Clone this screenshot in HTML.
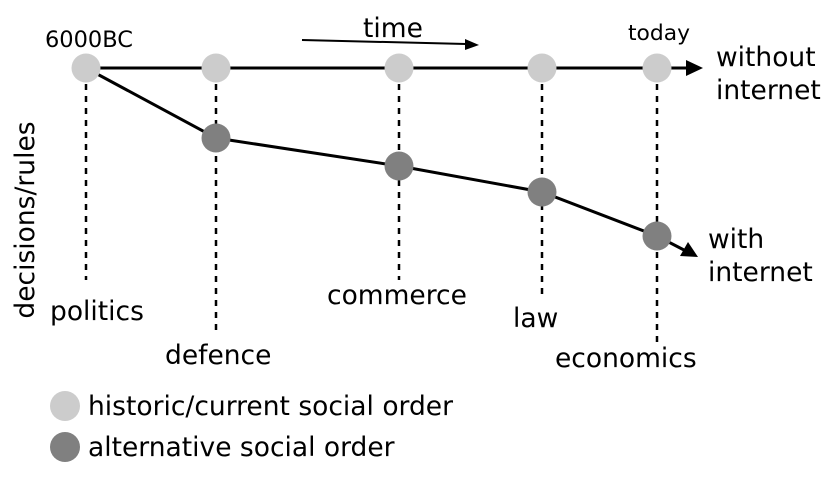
<!DOCTYPE html>
<html><head><style>
html,body{margin:0;padding:0;background:#fff;}
svg text{font-family:"DejaVu Sans","Liberation Sans",sans-serif;fill:#000;}
</style></head><body>
<svg width="833" height="481" viewBox="0 0 833 481" xmlns="http://www.w3.org/2000/svg">
<g stroke="#000" stroke-width="2.5" stroke-dasharray="6,6" fill="none">
<line x1="86" y1="84" x2="86" y2="280"/>
<line x1="216" y1="84" x2="216" y2="336"/>
<line x1="399" y1="84" x2="399" y2="280"/>
<line x1="542" y1="84" x2="542" y2="296"/>
<line x1="657" y1="84" x2="657" y2="342"/>
</g>
<g stroke="#000" stroke-width="3" fill="none">
<line x1="86" y1="68" x2="688" y2="68"/>
<polyline points="86,68 216,138 399,166 542,192 657,236 684,250"/>
<line x1="302" y1="40" x2="466" y2="44" stroke-width="2"/>
</g>
<polygon points="703,68 686,60 686,76" fill="#000"/>
<polygon points="698,257 680,256 688,242" fill="#000"/>
<polygon points="479,45 465,39 465,50" fill="#000"/>
<g fill="#ccc">
<circle cx="86" cy="68" r="14.5"/><circle cx="216" cy="68" r="14.5"/><circle cx="399" cy="68" r="14.5"/><circle cx="542" cy="68" r="14.5"/><circle cx="657" cy="68" r="14.5"/>
<circle cx="65" cy="406" r="15"/>
</g>
<g fill="#808080">
<circle cx="216" cy="138" r="14.5"/><circle cx="399" cy="166" r="14.5"/><circle cx="542" cy="192" r="14.5"/><circle cx="657" cy="236" r="14.5"/>
<circle cx="65" cy="447" r="15"/>
</g>
<text x="45" y="47" font-size="22" textLength="88" lengthAdjust="spacingAndGlyphs">6000BC</text>
<text x="628" y="40" font-size="21" textLength="62" lengthAdjust="spacingAndGlyphs">today</text>
<text x="363" y="37" font-size="26.5">time</text>
<text x="716" y="66" font-size="26.5">without</text>
<text x="716" y="99" font-size="26.5">internet</text>
<text x="708" y="248" font-size="26.5">with</text>
<text x="708" y="281" font-size="26.5">internet</text>
<text transform="translate(34,220) rotate(-90)" text-anchor="middle" font-size="26.5">decisions/rules</text>
<text x="50" y="320" font-size="26.5">politics</text>
<text x="165" y="364" font-size="26.5">defence</text>
<text x="327" y="304" font-size="26.5">commerce</text>
<text x="513" y="327" font-size="26.5">law</text>
<text x="555" y="367" font-size="26.5">economics</text>
<text x="88" y="415" font-size="26.5">historic/current social order</text>
<text x="88" y="456" font-size="26.5">alternative social order</text>
</svg>
</body></html>
